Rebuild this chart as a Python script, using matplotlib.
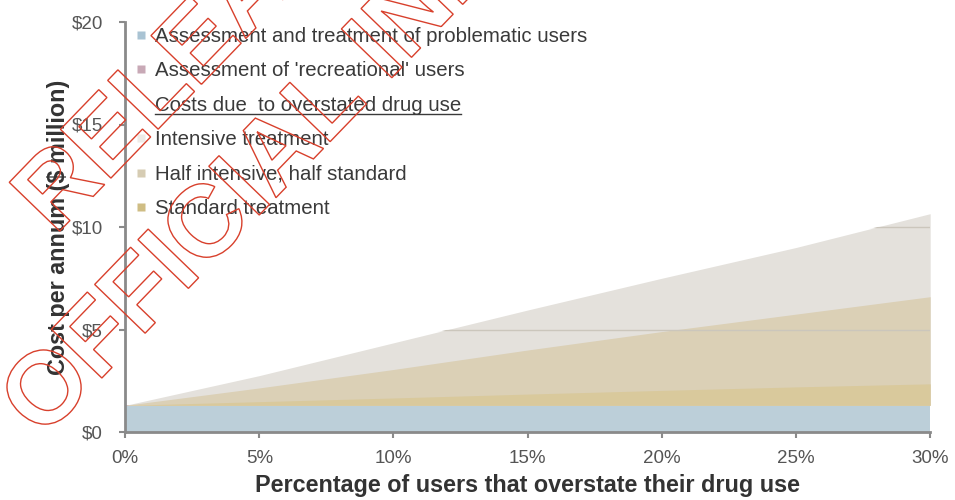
import matplotlib
matplotlib.use("Agg")
import matplotlib.pyplot as plt
from matplotlib.lines import Line2D
from matplotlib.patches import PathPatch
from matplotlib.textpath import TextPath
from matplotlib.font_manager import FontProperties
from matplotlib.transforms import Affine2D, IdentityTransform

plt.rcParams["font.family"] = ["Liberation Sans", "DejaVu Sans"]

# ---- data ($ million per annum) ----
overstate_pct = [0, 5, 10, 15, 20, 25, 30]
problematic = [1.25, 1.25, 1.25, 1.25, 1.25, 1.25, 1.25]
recreational = [0.05, 0.05, 0.05, 0.05, 0.05, 0.05, 0.05]
# extra cost caused by overstated use, one scenario per treatment mix
intensive_extra = [0.0, 1.45, 3.05, 4.65, 6.2, 7.7, 9.35]
half_extra = [0.0, 0.85, 1.75, 2.7, 3.6, 4.45, 5.3]
standard_extra = [0.0, 0.18, 0.36, 0.55, 0.73, 0.9, 1.05]

y_ticks = [0, 5, 10, 15, 20]
y_ticklabels = ["$0", "$5", "$10", "$15", "$20"]
x_ticks = [0, 5, 10, 15, 20, 25, 30]
x_ticklabels = ["0%", "5%", "10%", "15%", "20%", "25%", "30%"]

C_PROB = "#bccfd9"
C_REC = "#c8a9b6"
C_INT = "#e4e1dc"
C_HALF = "#dbd0b6"
C_STD = "#d9c99c"
AXIS_GREY = "#8a8a8a"

fig = plt.figure(figsize=(9.55, 5), dpi=100)
ax = fig.add_axes([0.131, 0.136, 0.843, 0.820])

base_lo = [0.0] * len(overstate_pct)
base_mid = problematic
base_hi = [p + r for p, r in zip(problematic, recreational)]

ax.fill_between(overstate_pct, base_lo, base_mid, color=C_PROB, lw=0, zorder=2)
ax.fill_between(overstate_pct, base_mid, base_hi, color=C_REC, lw=0, zorder=2)
int_poly = ax.fill_between(overstate_pct, base_hi,
                           [b + v for b, v in zip(base_hi, intensive_extra)],
                           color=C_INT, lw=0, zorder=2)
ax.fill_between(overstate_pct, base_hi,
                [b + v for b, v in zip(base_hi, half_extra)],
                color=C_HALF, lw=0, zorder=2)
ax.fill_between(overstate_pct, base_hi,
                [b + v for b, v in zip(base_hi, standard_extra)],
                color=C_STD, lw=0, zorder=2)

# faint gridlines only show through the filled region
clip_path = int_poly.get_paths()[0]
for yv in y_ticks[1:]:
    gl = ax.axhline(yv, color="#cbc6bc", lw=1.0, zorder=3)
    gl.set_clip_path(clip_path, ax.transData)

ax.set_xlim(0, 30)
ax.set_ylim(0, 20)
ax.set_xticks(x_ticks)
ax.set_xticklabels(x_ticklabels)
ax.set_yticks(y_ticks)
ax.set_yticklabels(y_ticklabels)
ax.tick_params(axis="both", colors=AXIS_GREY, length=4, width=1.5,
               labelsize=13.5, labelcolor="#555555")
ax.tick_params(axis="x", pad=9)
ax.tick_params(axis="y", pad=12)
for side in ["top", "right"]:
    ax.spines[side].set_visible(False)
for side in ["left", "bottom"]:
    ax.spines[side].set_color(AXIS_GREY)
    ax.spines[side].set_linewidth(2)

ax.set_xlabel("Percentage of users that overstate their drug use",
              fontsize=16.8, fontweight="bold", color="#333333", labelpad=5)
ax.set_ylabel("Cost per annum ($ million)",
              fontsize=16.8, fontweight="bold", color="#333333", labelpad=1)

handles = [
    Line2D([], [], ls="none", marker="s", ms=6, mfc="#a9c3d3", mec="none"),
    Line2D([], [], ls="none", marker="s", ms=6, mfc=C_REC, mec="none"),
    Line2D([], [], ls="none", marker="none"),
    Line2D([], [], ls="none", marker="s", ms=6, mfc="#eeebe7", mec="none"),
    Line2D([], [], ls="none", marker="s", ms=6, mfc="#d6ccb3", mec="none"),
    Line2D([], [], ls="none", marker="s", ms=6, mfc="#cfbd84", mec="none"),
]
labels = [
    "Assessment and treatment of problematic users",
    "Assessment of 'recreational' users",
    "Costs due  to overstated drug use",
    "Intensive treatment",
    "Half intensive, half standard",
    "Standard treatment",
]
leg = ax.legend(handles, labels, loc="upper left", bbox_to_anchor=(0.008, 0.998),
                frameon=False, fontsize=14.7, handlelength=0.55, handletextpad=0.4,
                labelspacing=0.76, borderaxespad=0, borderpad=0.2)
for t in leg.get_texts():
    t.set_color("#3a3a3a")

# underline for the legend sub-heading
fig.canvas.draw()
bb = leg.get_texts()[2].get_window_extent()
fig.add_artist(Line2D([bb.x0, bb.x1], [bb.y0 + 1, bb.y0 + 1], color="#3a3a3a",
                      lw=1.0, transform=IdentityTransform()))

# release stamp across the upper left
stamp_font = FontProperties(family="Liberation Sans", weight="bold")
for txt, (px, py) in [("RELEASED UNDER THE", (55, 264)),
                      ("OFFICIAL INFORMATION ACT", (42, 60))]:
    tp = TextPath((0, 0), txt, size=102, prop=stamp_font)
    patch = PathPatch(tp, facecolor="none", edgecolor="#d8402c", lw=1.0,
                      transform=Affine2D().rotate_deg(46).translate(px, py),
                      zorder=10)
    fig.add_artist(patch)

fig.savefig("out.png", dpi=100)
